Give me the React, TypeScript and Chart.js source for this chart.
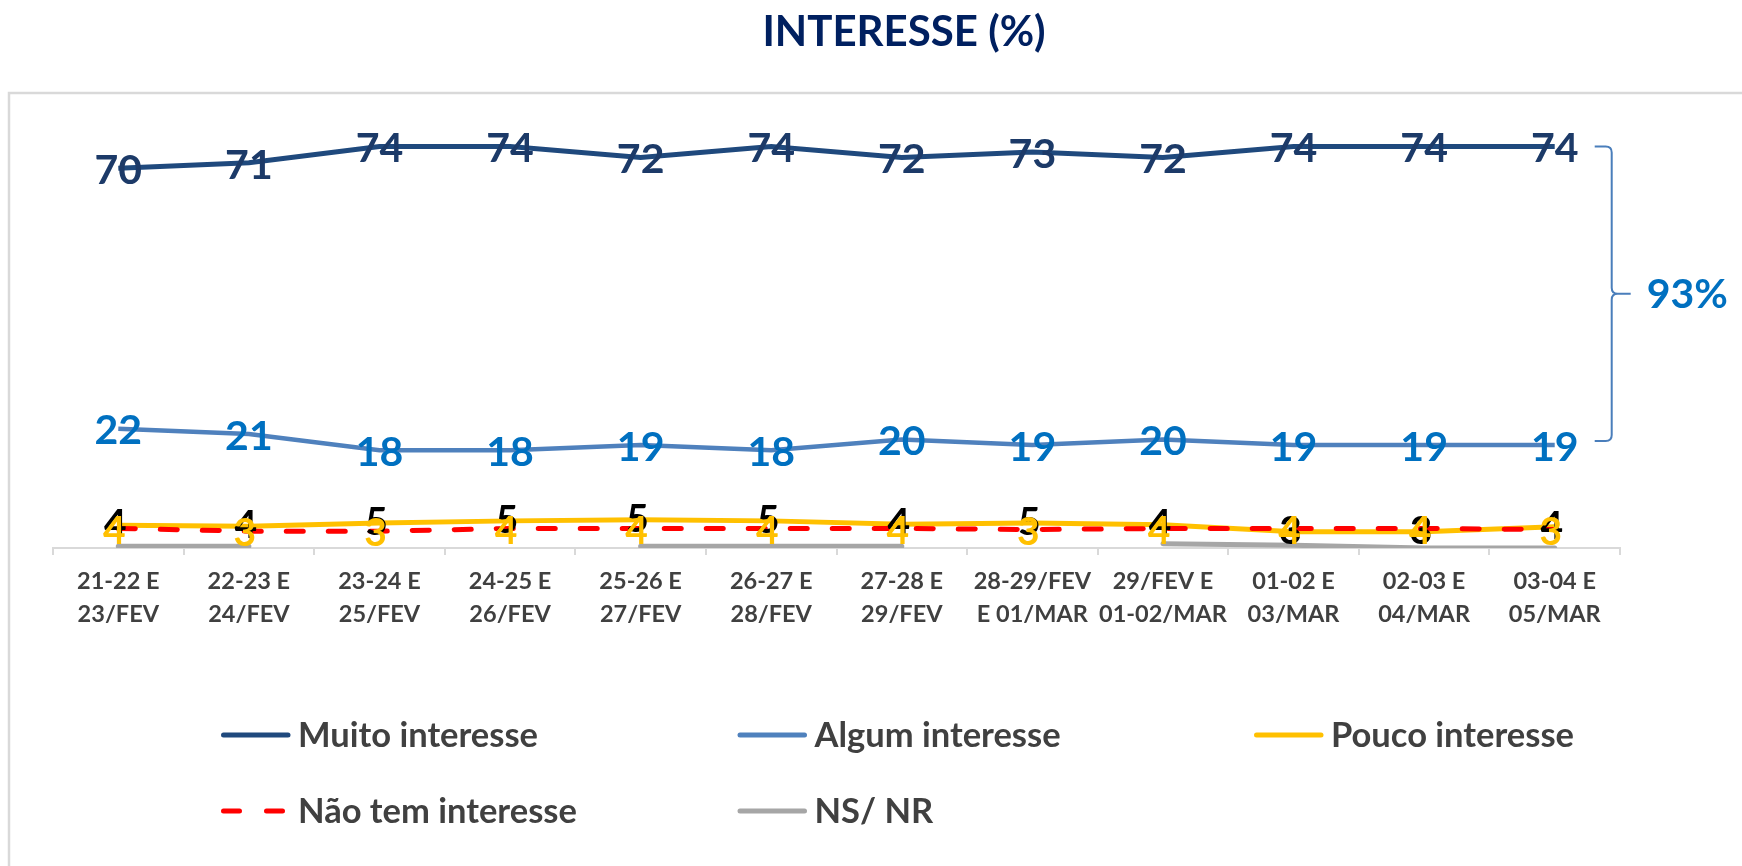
import React, { useEffect, useRef } from 'react';
import { Chart, registerables } from 'chart.js';

Chart.register(...registerables);

// ---------- DATA ----------
const categories: string[][] = [
  ['21-22 E', '23/FEV'],
  ['22-23 E', '24/FEV'],
  ['23-24 E', '25/FEV'],
  ['24-25 E', '26/FEV'],
  ['25-26 E', '27/FEV'],
  ['26-27 E', '28/FEV'],
  ['27-28 E', '29/FEV'],
  ['28-29/FEV', 'E 01/MAR'],
  ['29/FEV E', '01-02/MAR'],
  ['01-02 E', '03/MAR'],
  ['02-03 E', '04/MAR'],
  ['03-04 E', '05/MAR'],
];
const muitoInteresse = [70, 71, 74, 74, 72, 74, 72, 73, 72, 74, 74, 74];
const algumInteresse = [22, 21, 18, 18, 19, 18, 20, 19, 20, 19, 19, 19];
const poucoInteresse = [4.2, 4.0, 4.6, 5.0, 5.2, 5.0, 4.4, 4.6, 4.3, 3.0, 3.0, 3.9];
const naoTemInteresse = [3.6, 3.1, 3.1, 3.6, 3.6, 3.6, 3.6, 3.4, 3.6, 3.6, 3.6, 3.4];
const nsNr: (number | null)[] = [0.3, 0.3, null, null, 0.3, 0.3, 0.3, null, 0.8, 0.5, 0, 0];
const seriesNames = ['Muito interesse', 'Algum interesse', 'Pouco interesse', 'Não tem interesse', 'NS/ NR'];
const chartTitle = 'INTERESSE (%)';

const FONT = "Lato, 'Open Sans', 'Noto Sans', sans-serif";

const decorPlugin = {
  id: 'decor',
  beforeDraw(chart: any) {
    const ctx = chart.ctx;
    ctx.save();
    ctx.strokeStyle = '#d9d9d9';
    ctx.lineWidth = 2.5;
    ctx.strokeRect(9, 93, 1800, 900);
    ctx.restore();
  },
  afterDatasetsDraw(chart: any) {
    const ctx = chart.ctx;
    ctx.save();
    chart.data.datasets.forEach((ds: any, i: number) => {
      if (!ds.showLabels) return;
      const meta = chart.getDatasetMeta(i);
      const size = ds.labelSize;
      const dx = ds.labelDx || 0;
      const dy = ds.labelDy || 0;
      ctx.font = `bold ${size}px ${FONT}`;
      ctx.fillStyle = ds.labelColor;
      ctx.textAlign = 'center';
      ctx.textBaseline = 'alphabetic';
      meta.data.forEach((el: any, j: number) => {
        const v = ds.data[j];
        if (v === null || v === undefined) return;
        ctx.fillText(String(Math.round(v)), el.x + dx, el.y + 0.36 * size + 1 + dy);
      });
    });
    ctx.restore();
  },
  afterDraw(chart: any) {
    const ctx = chart.ctx;
    ctx.save();
    // Title
    ctx.font = `bold 42px ${FONT}`;
    ctx.fillStyle = '#002060';
    ctx.textAlign = 'center';
    ctx.textBaseline = 'alphabetic';
    ctx.fillText(chartTitle, 904, 46);

    // Legend
    chart.data.datasets.forEach((ds: any, i: number) => {
      const col = i % 3;
      const row = Math.floor(i / 3);
      const x0 = 221 + col * 516.5;
      const y = 735 + row * 76;
      ctx.beginPath();
      ctx.strokeStyle = ds.borderColor;
      ctx.lineWidth = 5;
      ctx.lineCap = 'round';
      ctx.setLineDash(ds.borderDash && ds.borderDash.length ? [16, 27] : []);
      ctx.moveTo(x0 + 2.5, y);
      ctx.lineTo(x0 + 67, y);
      ctx.stroke();
      ctx.setLineDash([]);
      ctx.font = `bold 34.5px ${FONT}`;
      ctx.fillStyle = '#404040';
      ctx.textAlign = 'left';
      ctx.fillText(ds.label, x0 + 77, y + 12.3);
    });

    // Bracket around Muito + Algum
    const yScale = chart.scales.y;
    const xScale = chart.scales.x;
    const last = muitoInteresse.length - 1;
    const xl = xScale.getPixelForValue(last);
    const top = yScale.getPixelForValue(muitoInteresse[last]);
    const bottom = yScale.getPixelForValue(algumInteresse[last]) - 4;
    const mid = (top + bottom) / 2;
    const x0 = xl + 40;
    const xv = xl + 57;
    const xt = xl + 76;
    const r = 6;
    ctx.beginPath();
    ctx.strokeStyle = '#4a7ebb';
    ctx.lineWidth = 2;
    ctx.lineCap = 'butt';
    ctx.moveTo(x0, top);
    ctx.lineTo(xv - r, top);
    ctx.quadraticCurveTo(xv, top, xv, top + r);
    ctx.lineTo(xv, mid - r);
    ctx.quadraticCurveTo(xv, mid, xv + r, mid);
    ctx.lineTo(xt, mid);
    ctx.moveTo(xv + r, mid);
    ctx.quadraticCurveTo(xv, mid, xv, mid + r);
    ctx.lineTo(xv, bottom - r);
    ctx.quadraticCurveTo(xv, bottom, xv - r, bottom);
    ctx.lineTo(x0, bottom);
    ctx.stroke();

    ctx.font = `bold 41px ${FONT}`;
    ctx.fillStyle = '#0070c0';
    ctx.textAlign = 'left';
    ctx.fillText(`${muitoInteresse[last] + algumInteresse[last]}%`, xl + 92, mid + 0.36 * 41);
    ctx.restore();
  },
};

export default function App() {
  const canvasRef = useRef<HTMLCanvasElement | null>(null);

  useEffect(() => {
    const canvas = canvasRef.current;
    if (!canvas) return;
    const chart = new Chart(canvas, {
      type: 'line',
      data: {
        labels: categories,
        datasets: [
          {
            label: seriesNames[0],
            data: muitoInteresse,
            borderColor: '#1f497d',
            backgroundColor: '#1f497d',
            borderWidth: 5,
            order: 5,
            showLabels: true,
            labelColor: '#1c3a68',
            labelSize: 41,
          } as any,
          {
            label: seriesNames[1],
            data: algumInteresse,
            borderColor: '#4f81bd',
            backgroundColor: '#4f81bd',
            borderWidth: 4.5,
            order: 4,
            showLabels: true,
            labelColor: '#0070c0',
            labelSize: 41,
          } as any,
          {
            label: seriesNames[2],
            data: poucoInteresse,
            borderColor: '#ffc000',
            backgroundColor: '#ffc000',
            borderWidth: 5,
            order: 3,
            showLabels: true,
            labelColor: '#000000',
            labelSize: 39,
            labelDx: -3,
            labelDy: -3,
          } as any,
          {
            label: seriesNames[3],
            data: naoTemInteresse,
            borderColor: '#ff0000',
            backgroundColor: '#ff0000',
            borderWidth: 5,
            borderDash: [17, 25],
            borderCapStyle: 'round',
            order: 2,
            showLabels: true,
            labelColor: '#ffc000',
            labelSize: 39,
            labelDx: -4,
            labelDy: 0,
          } as any,
          {
            label: seriesNames[4],
            data: nsNr,
            borderColor: '#a6a6a6',
            backgroundColor: '#a6a6a6',
            borderWidth: 5,
            borderCapStyle: 'round',
            spanGaps: false,
            order: 1,
            showLabels: false,
          } as any,
        ],
      },
      options: {
        responsive: false,
        animation: false,
        devicePixelRatio: 1,
        layout: { padding: { left: 53, right: 122, top: 114, bottom: 0 } },
        elements: { point: { radius: 0, hoverRadius: 0 }, line: { tension: 0 } },
        plugins: {
          legend: { display: false },
          title: { display: false },
          tooltip: { enabled: false },
        },
        scales: {
          x: {
            type: 'category',
            offset: true,
            grid: {
              display: true,
              drawOnChartArea: false,
              drawTicks: true,
              tickLength: 7,
              color: '#d9d9d9',
              lineWidth: 2,
              offset: true,
            },
            border: { display: true, color: '#d9d9d9', width: 2 },
            ticks: {
              autoSkip: false,
              maxRotation: 0,
              minRotation: 0,
              padding: 10,
              color: '#404040',
              font: { family: FONT, size: 23.5, weight: 'bold', lineHeight: 1.41 },
            },
            afterFit: (scale: any) => {
              scale.height = 318;
            },
          } as any,
          y: { display: false, min: 0, max: 80 },
        },
      },
      plugins: [decorPlugin],
    });
    let alive = true;
    if ((document as any).fonts && (document as any).fonts.load) {
      Promise.all([
        (document as any).fonts.load(`bold 32px Lato`),
        (document as any).fonts.load(`bold 23px Lato`),
      ]).then(() => {
        if (alive) chart.update();
      }).catch(() => {});
    }
    return () => {
      alive = false;
      chart.destroy();
    };
  }, []);

  return (
    <div style={{ position: 'fixed', left: 0, top: 0, width: 1742, height: 866, background: '#ffffff' }}>
      <canvas ref={canvasRef} width={1742} height={866} style={{ display: 'block', width: 1742, height: 866 }} />
    </div>
  );
}
